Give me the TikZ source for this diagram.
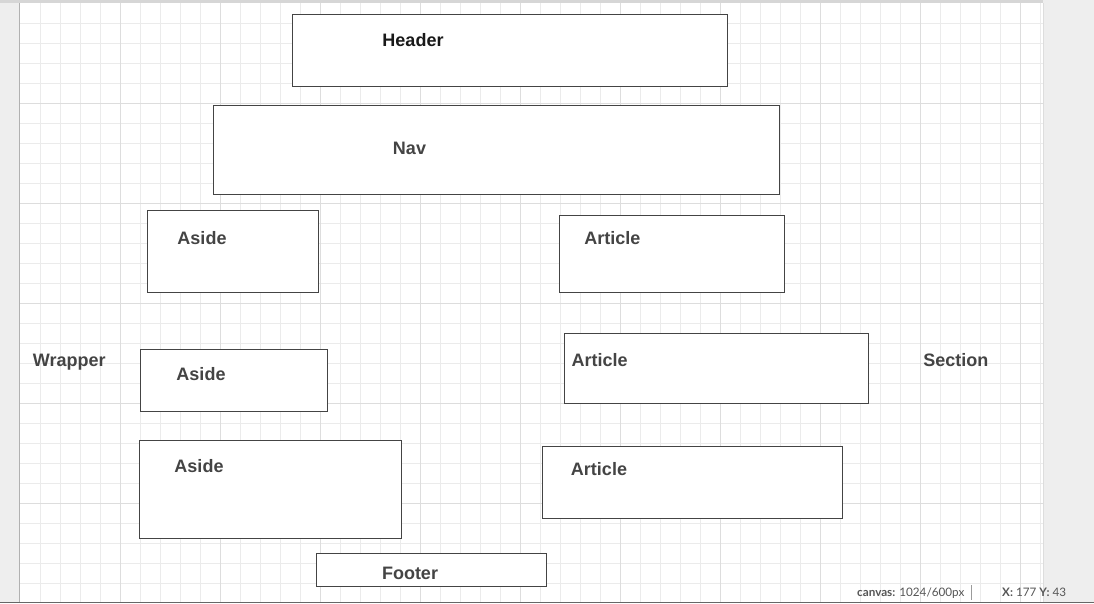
\documentclass[tikz,border=0pt]{standalone}
\usepackage{fontspec}
\setmainfont{Liberation Sans}
\newfontfamily\statusfont{Lato}
\usetikzlibrary{positioning}

\definecolor{outside}{HTML}{EEEEEE}
\definecolor{topbar}{HTML}{D6D6D6}
\definecolor{gridminor}{HTML}{EBEBEB}
\definecolor{gridmajor}{HTML}{DDDDDD}
\definecolor{boxline}{HTML}{444444}
\definecolor{lbltext}{HTML}{444444}
\definecolor{statustext}{HTML}{555555}

\newcommand{\lblfont}{\fontsize{18}{20}\selectfont\bfseries}

\begin{document}
\begin{tikzpicture}[x=1pt, y=-1pt,
  box/.style={draw=boxline, fill=white, line width=1pt, inner sep=0pt, outer sep=0pt},
  lbl/.style={anchor=base, inner sep=0pt, text=lbltext, font=\lblfont},
  status/.style={anchor=base west, inner sep=0pt, text=statustext, font=\statusfont\fontsize{11.7}{13}\selectfont}]
  \useasboundingbox (0,0) rectangle (1094,603);

  % Canvas and grid
  \fill[outside] (0,0) rectangle (1094,603);
  \fill[white] (20,3) rectangle (1043,602);
  \foreach \gx in {40,60,...,1040} {
    \draw[gridminor, line width=1pt] (\gx,3) -- (\gx,602);
  }
  \foreach \gy in {23,43,...,583} {
    \draw[gridminor, line width=1pt] (20,\gy) -- (1043,\gy);
  }
  \foreach \gx in {120,220,...,1020} {
    \draw[gridmajor, line width=1pt] (\gx,3) -- (\gx,602);
  }
  \foreach \gy in {103,203,...,503} {
    \draw[gridmajor, line width=1pt] (20,\gy) -- (1043,\gy);
  }
  \fill[topbar] (0,0) rectangle (1043,3);
  \draw[gridmajor!80!black, line width=1pt] (19.5,3) -- (19.5,602);
  \draw[gridmajor, line width=1pt] (1043,3) -- (1043,602);
  \draw[black!60, line width=1pt] (0,602) -- (1094,602);

  % Header and nav
  \node[box, minimum width=435pt, minimum height=72pt] (header) at (509.5,50) {};
  \node[box, minimum width=566pt, minimum height=89pt] (nav) at (496,149.5) {};

  % Asides
  \node[box, minimum width=171pt, minimum height=82pt] (aside1) at (232.5,251) {};
  \node[box, minimum width=187pt, minimum height=62pt] (aside2) at (233.5,380) {};
  \node[box, minimum width=262pt, minimum height=98pt] (aside3) at (270,489) {};

  % Articles
  \node[box, minimum width=225pt, minimum height=77pt] (article1) at (671.5,253.5) {};
  \node[box, minimum width=304pt, minimum height=70pt] (article2) at (716,368) {};
  \node[box, minimum width=300pt, minimum height=72pt] (article3) at (692,482) {};

  % Footer
  \node[box, minimum width=230pt, minimum height=33pt] (footer) at (431,569.5) {};

  % Labels
  \node[lbl, text=black!90] (headerlbl) at (413,46) {Header};
  \node[lbl] (navlbl) at (409.5,154) {Nav};
  \node[lbl] (aside1lbl) at (202,244) {Aside};
  \node[lbl] (aside2lbl) at (201,380) {Aside};
  \node[lbl] (aside3lbl) at (199,472) {Aside};
  \node[lbl] (article1lbl) at (612.3,244) {Article};
  \node[lbl] (article2lbl) at (599.7,366) {Article};
  \node[lbl] (article3lbl) at (599,475) {Article};
  \node[lbl] (wrapperlbl) at (69.2,366) {Wrapper};
  \node[lbl] (sectionlbl) at (955.8,366) {Section};
  \node[lbl] (footerlbl) at (410,579) {Footer};

  % Status bar
  \node[status] (canvasinfo) at (857,596) {\textbf{canvas:} 1024/600px};
  \draw[gridmajor!70!black, line width=0.8pt] (971,585) -- (971,600);
  \node[status] (cursorinfo) at (1002,596) {\textbf{X:} 177 \textbf{Y:} 43};
\end{tikzpicture}
\end{document}
